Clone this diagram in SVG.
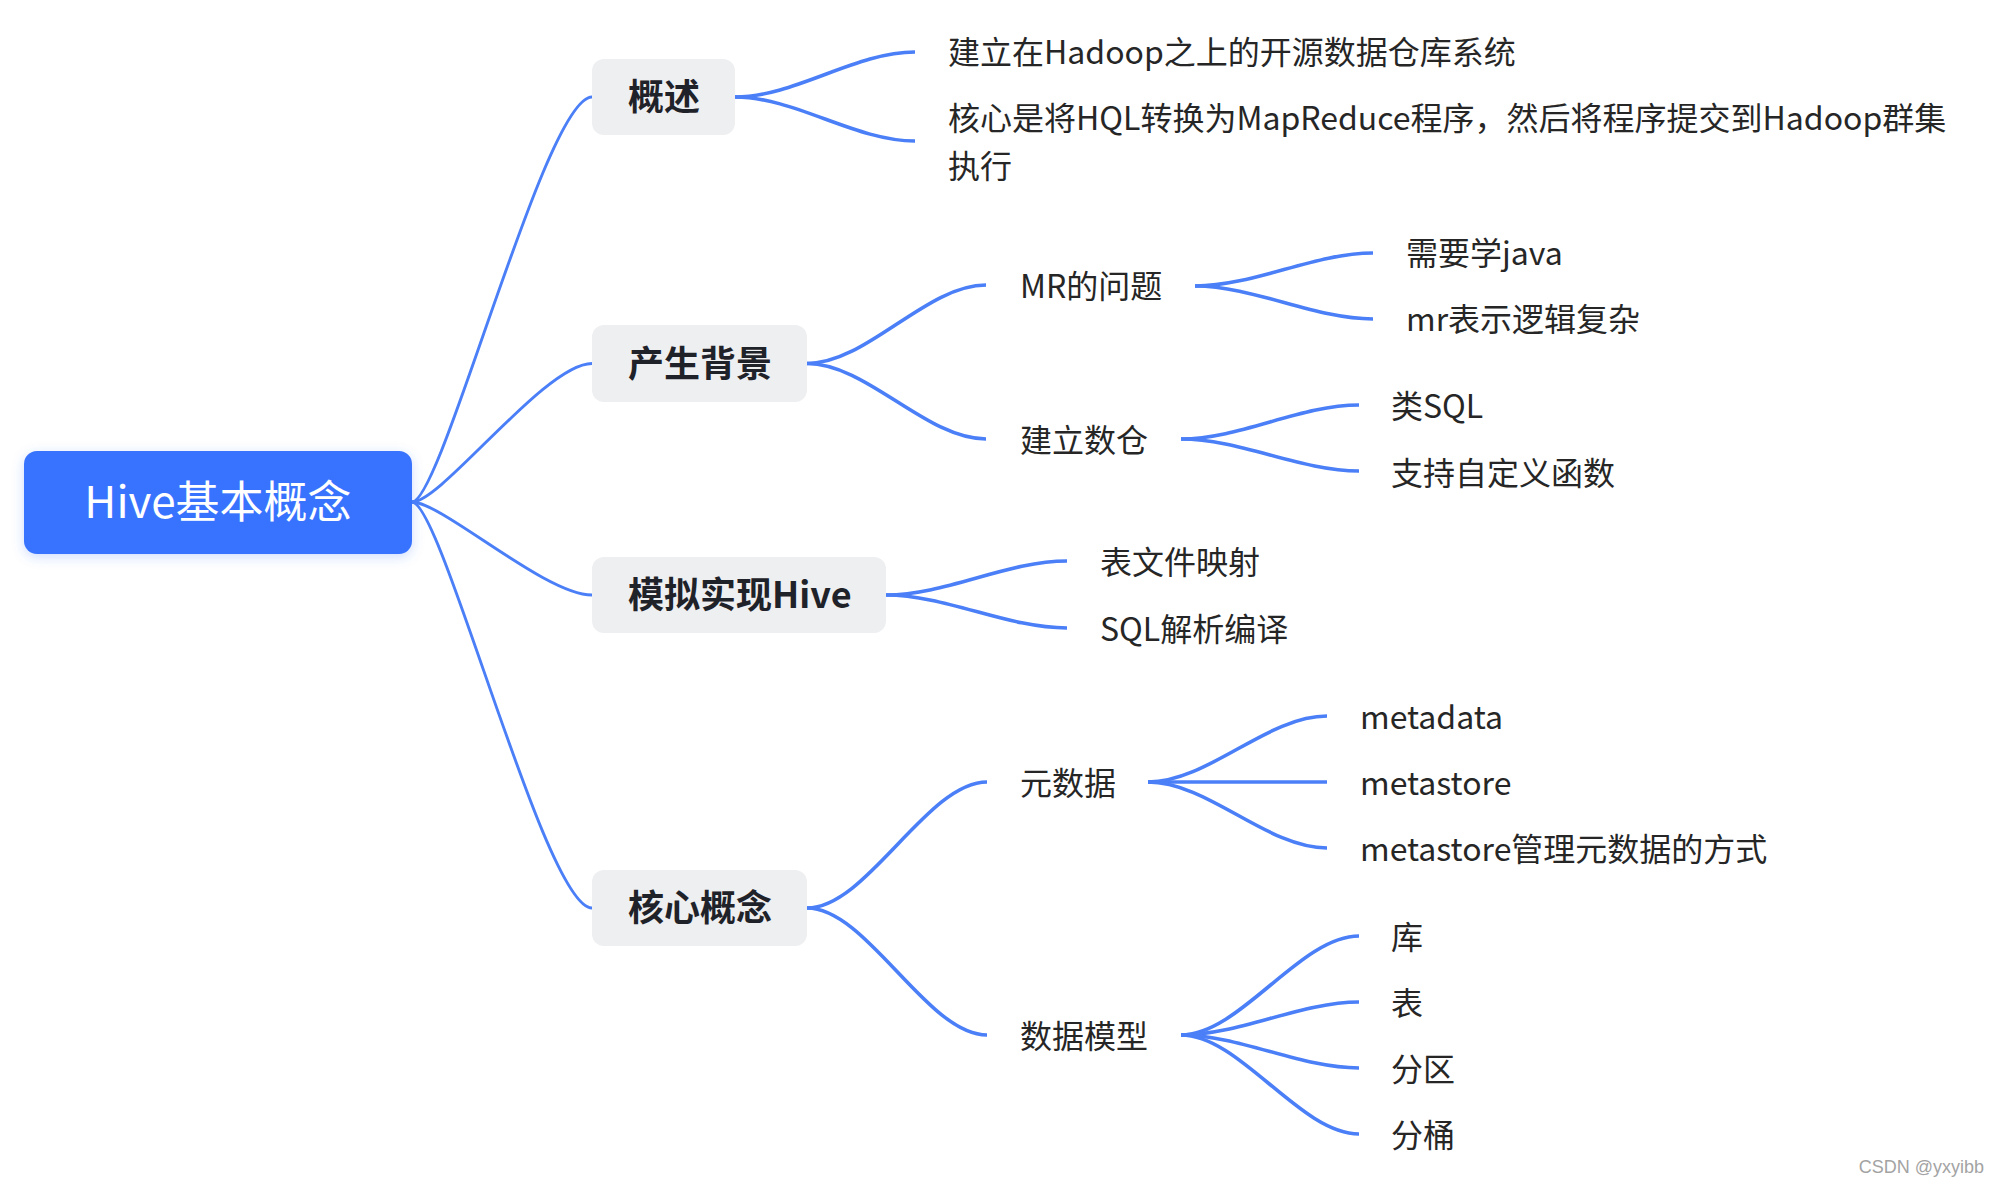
<svg xmlns="http://www.w3.org/2000/svg" width="2000" height="1186" viewBox="0 0 2000 1186">
  <defs>
    <filter id="glow" x="-20%" y="-40%" width="140%" height="180%">
      <feDropShadow dx="0" dy="3" stdDeviation="6" flood-color="#3873ff" flood-opacity="0.25"/>
    </filter>
    <style>
      .root { fill: #3873ff; }
      .rootText { font-family: "Noto Sans CJK SC", "Noto Sans", sans-serif; font-size: 44px; fill: #ffffff; }
      .l1 { fill: #eeeff1; }
      .l1Text { font-family: "Noto Sans CJK SC", "Noto Sans", sans-serif; font-size: 36px; font-weight: 700; fill: #1f2329; }
      .t { font-family: "Noto Sans CJK SC", "Noto Sans", sans-serif; font-size: 32px; fill: #262626; }
      .c0 { fill: none; stroke: #4b7ff7; stroke-width: 2.9; stroke-linecap: round; }
      .c { fill: none; stroke: #4b7ff7; stroke-width: 3.6; stroke-linecap: butt; }
      .wm { font-family: "Liberation Sans", Arial, sans-serif; font-size: 18px; fill: #a3a3a3; }
    </style>
  </defs>
  <rect width="2000" height="1186" fill="#ffffff"/>

  <g id="connectors">
    <!-- root to level 1 -->
    <path class="c0" d="M412 502 C442 502 545 97 592 97"/>
    <path class="c0" d="M412 502 C442 502 545 363.5 592 363.5"/>
    <path class="c0" d="M412 502 C442 502 545 595 592 595"/>
    <path class="c0" d="M412 502 C442 502 545 908 592 908"/>
    <!-- 概述 -->
    <path class="c" d="M735 97 C795 97 855 52 915 52"/>
    <path class="c" d="M735 97 C795 97 855 141 915 141"/>
    <!-- 产生背景 -->
    <path class="c" d="M807 363.5 C867 363.5 926 285 986 285"/>
    <path class="c" d="M807 363.5 C867 363.5 926 439 986 439"/>
    <!-- MR的问题 -->
    <path class="c" d="M1195 286 C1254 286 1314 253 1373 253"/>
    <path class="c" d="M1195 286 C1254 286 1314 319 1373 319"/>
    <!-- 建立数仓 -->
    <path class="c" d="M1181 439 C1240 439 1300 405 1359 405"/>
    <path class="c" d="M1181 439 C1240 439 1300 471 1359 471"/>
    <!-- 模拟实现Hive -->
    <path class="c" d="M886 595 C946 595 1007 561 1067 561"/>
    <path class="c" d="M886 595 C946 595 1007 628 1067 628"/>
    <!-- 核心概念 -->
    <path class="c" d="M807 908 C867 908 927 782 987 782"/>
    <path class="c" d="M807 908 C867 908 927 1035 987 1035"/>
    <!-- 元数据 -->
    <path class="c" d="M1148 782 C1208 782 1267 716 1327 716"/>
    <path class="c" d="M1148 782 L1327 782"/>
    <path class="c" d="M1148 782 C1208 782 1267 848 1327 848"/>
    <!-- 数据模型 -->
    <path class="c" d="M1181 1035 C1240 1035 1300 936 1359 936"/>
    <path class="c" d="M1181 1035 C1240 1035 1300 1002 1359 1002"/>
    <path class="c" d="M1181 1035 C1240 1035 1300 1068 1359 1068"/>
    <path class="c" d="M1181 1035 C1240 1035 1300 1134 1359 1134"/>
  </g>

  <g id="root">
    <rect class="root" x="24" y="451" width="388" height="103" rx="13" filter="url(#glow)"/>
    <text class="rootText" x="218" y="518" text-anchor="middle">Hive基本概念</text>
  </g>

  <g id="gaishu">
    <rect class="l1" x="592" y="59" width="143" height="76" rx="12"/>
    <text class="l1Text" x="628" y="110">概述</text>
  </g>
  <g id="chanshengbeijing">
    <rect class="l1" x="592" y="325" width="215" height="77" rx="12"/>
    <text class="l1Text" x="628" y="376.5">产生背景</text>
  </g>
  <g id="monishixian">
    <rect class="l1" x="592" y="557" width="294" height="76" rx="12"/>
    <text class="l1Text" x="628" y="608">模拟实现Hive</text>
  </g>
  <g id="hexingainian">
    <rect class="l1" x="592" y="870" width="215" height="76" rx="12"/>
    <text class="l1Text" x="628" y="921">核心概念</text>
  </g>

  <g id="n-jianli-hadoop">
    <text class="t" x="948" y="64">建立在Hadoop之上的开源数据仓库系统</text>
  </g>
  <g id="n-hexin-hql">
    <text class="t" x="948" y="130"><tspan x="948" y="130">核心是将HQL转换为MapReduce程序，然后将程序提交到Hadoop群集</tspan><tspan x="948" y="178">执行</tspan></text>
  </g>

  <g id="n-mr"><text class="t" x="1020" y="298">MR的问题</text></g>
  <g id="n-java"><text class="t" x="1406" y="265">需要学java</text></g>
  <g id="n-mrlogic"><text class="t" x="1406" y="331">mr表示逻辑复杂</text></g>

  <g id="n-shucang"><text class="t" x="1020" y="452">建立数仓</text></g>
  <g id="n-sql"><text class="t" x="1391" y="418">类SQL</text></g>
  <g id="n-udf"><text class="t" x="1391" y="485">支持自定义函数</text></g>

  <g id="n-mapping"><text class="t" x="1100" y="574">表文件映射</text></g>
  <g id="n-sqlparse"><text class="t" x="1100" y="641">SQL解析编译</text></g>

  <g id="n-yuanshuju"><text class="t" x="1020" y="795">元数据</text></g>
  <g id="n-metadata"><text class="t" x="1360" y="729">metadata</text></g>
  <g id="n-metastore"><text class="t" x="1360" y="795">metastore</text></g>
  <g id="n-metastore-way"><text class="t" x="1360" y="861">metastore管理元数据的方式</text></g>

  <g id="n-shujumoxing"><text class="t" x="1020" y="1048">数据模型</text></g>
  <g id="n-ku"><text class="t" x="1391" y="949">库</text></g>
  <g id="n-biao"><text class="t" x="1391" y="1015">表</text></g>
  <g id="n-fenqu"><text class="t" x="1391" y="1081">分区</text></g>
  <g id="n-fentong"><text class="t" x="1391" y="1147">分桶</text></g>

  <text class="wm" x="1984" y="1173" text-anchor="end">CSDN @yxyibb</text>
</svg>
